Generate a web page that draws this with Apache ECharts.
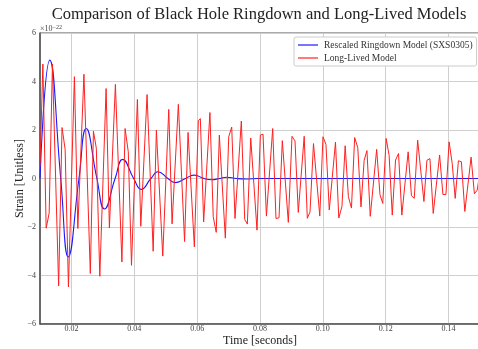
<!DOCTYPE html>
<html>
<head>
<meta charset="utf-8">
<script src="https://cdn.jsdelivr.net/npm/echarts@6/dist/echarts.min.js"></script>
<style>
html,body{margin:0;padding:0;background:#fff;}
#chart{width:478px;height:349px;}
</style>
</head>
<body>
<div id="chart"></div>
<script>
// ---- Data (strain in units of 1e-22) ----
const xTicks = [0.02, 0.04, 0.06, 0.08, 0.10, 0.12, 0.14];
const yTicks = [-6, -4, -2, 0, 2, 4, 6];

const blueT = [0.0100, 0.0131, 0.0166, 0.0190, 0.0224, 0.0247, 0.0281, 0.0305, 0.0339, 0.0363,
  0.0398, 0.0422, 0.0453, 0.0475, 0.0507, 0.0530, 0.0563, 0.0590, 0.0622, 0.0646,
  0.0672, 0.0694, 0.0725, 0.0758, 0.0790, 0.1500];
const blueV = [0.0, 4.88, 0.0, -3.23, 0.0, 2.06, 0.0, -1.26, 0.0, 0.79,
  0.0, -0.45, 0.0, 0.28, 0.0, -0.17, 0.0, 0.14, 0.0, -0.05,
  0.0, 0.05, 0.0, -0.02, 0.0, 0.0];

const redT = [0.0100, 0.01091, 0.01196, 0.01291, 0.01396, 0.01593, 0.01701, 0.01800, 0.01905, 0.02095,
  0.02204, 0.02398, 0.02601, 0.02700, 0.02792, 0.02903, 0.03103, 0.03208, 0.03399, 0.03606,
  0.03708, 0.03809, 0.03911, 0.04099, 0.04207, 0.04407, 0.04601, 0.04703, 0.04906, 0.05097,
  0.05202, 0.05402, 0.05600, 0.05711, 0.05911, 0.06038, 0.06102, 0.06207, 0.06407, 0.06512,
  0.06607, 0.06706, 0.06897, 0.07005, 0.07100, 0.07205, 0.07406, 0.07514, 0.07597, 0.07705,
  0.07905, 0.08010, 0.08096, 0.08204, 0.08404, 0.08509, 0.08605, 0.08710, 0.08901, 0.09018,
  0.09114, 0.09218, 0.09406, 0.09505, 0.09591, 0.09702, 0.09902, 0.10004, 0.10099, 0.10204,
  0.10402, 0.10507, 0.10608, 0.10710, 0.10812, 0.10910, 0.11012, 0.11111, 0.11213, 0.11314,
  0.11403, 0.11508, 0.11712, 0.11817, 0.11906, 0.12014, 0.12109, 0.12208, 0.12313, 0.12408,
  0.12513, 0.12714, 0.12819, 0.12908, 0.13016, 0.13216, 0.13311, 0.13407, 0.13512, 0.13715,
  0.13820, 0.13916, 0.14017, 0.14116, 0.14211, 0.14313, 0.14408, 0.14517, 0.14717, 0.14822,
  0.14911, 0.15000];
const redV = [0.5, 4.72, -2.05, -1.43, 4.72, -4.43, 2.10, 1.20, -4.47, 4.20,
  -2.06, 4.30, -3.92, 1.95, 1.25, -4.03, 3.71, -2.04, 3.88, -3.44,
  2.06, 1.10, -3.58, 3.26, -1.97, 3.46, -3.00, 1.99, -3.20, 2.85,
  -1.87, 3.06, -2.60, 1.90, -2.82, 2.38, 2.47, -1.79, 2.72, -1.58,
  -2.22, 1.79, -2.46, 1.72, 2.12, -1.65, 2.37, -1.69, -1.88, 1.67,
  -2.13, 1.79, 1.83, -1.55, 2.06, -1.65, -1.62, 1.56, -1.81, 1.74,
  1.55, -1.40, 1.74, -1.64, -1.38, 1.44, -1.55, 1.72, 1.40, -1.30,
  1.50, -1.63, -1.15, 1.35, -0.75, -1.22, 1.69, 1.27, -1.17, 0.75,
  1.15, -1.56, 1.20, -0.66, -1.03, 1.65, 0.95, -1.51, 0.76, 1.03,
  -1.51, 1.10, -0.71, -0.82, 1.58, -0.95, 0.75, 0.82, -1.44, 0.97,
  -0.66, -0.66, 1.51, 0.62, -0.82, 0.73, 0.69, -1.36, 0.88, -0.63,
  -0.48, 0.30];

const blueName = 'Rescaled Ringdown Model (SXS0305)';
const redName = 'Long-Lived Model';

const blueData = blueT.map((t, i) => [t, blueV[i]]);
const redData = redT.map((t, i) => [t, redV[i]]);

const SERIF = '"Liberation Serif", "DejaVu Serif", serif';
const chart = echarts.init(document.getElementById('chart'), null, {renderer: 'canvas'});
chart.setOption({
  animation: false,
  backgroundColor: '#ffffff',
  title: {
    text: 'Comparison of Black Hole Ringdown and Long-Lived Models',
    left: 259, top: 6, padding: 0, textAlign: 'center',
    textStyle: {fontFamily: SERIF, fontSize: 16.5, fontWeight: 'normal', color: '#222'}
  },
  legend: {
    data: [
      {name: blueName, icon: 'rect'},
      {name: redName, icon: 'rect'}
    ],
    orient: 'vertical',
    left: 294, top: 37,
    padding: [3, 4, 3, 4],
    itemWidth: 20, itemHeight: 1.2, itemGap: 3,
    backgroundColor: '#fff',
    borderColor: '#cccccc', borderWidth: 1, borderRadius: 2,
    textStyle: {fontFamily: SERIF, fontSize: 9.5, color: '#333', padding: [0, 0, 0, 1]}
  },
  grid: {
    left: 40, top: 33, width: 440, height: 291,
    outerBoundsMode: 'none', containLabel: false,
    show: true, borderColor: '#555', borderWidth: 1, backgroundColor: 'transparent'
  },
  xAxis: {
    type: 'value', min: 0.01, max: 0.15,
    name: 'Time [seconds]', nameLocation: 'middle', nameGap: 11, nameMoveOverlap: false,
    nameTextStyle: {fontFamily: SERIF, fontSize: 12, color: '#222'},
    axisLine: {show: true, onZero: false, lineStyle: {color: '#555', width: 1.5}},
    axisTick: {show: false, customValues: xTicks},
    axisLabel: {customValues: xTicks, fontFamily: SERIF, fontSize: 8, color: '#444', margin: 1,
      formatter: v => v.toFixed(2)},
    splitLine: {show: true, lineStyle: {color: '#cfcfcf', width: 1}}
  },
  yAxis: {
    type: 'value', min: -6, max: 6, interval: 2,
    name: 'Strain [Unitless]', nameLocation: 'middle', nameGap: 14, nameMoveOverlap: false,
    nameTextStyle: {fontFamily: SERIF, fontSize: 12, color: '#222'},
    axisLine: {show: true, onZero: false, lineStyle: {color: '#555', width: 1.5}},
    axisTick: {show: false},
    axisLabel: {fontFamily: SERIF, fontSize: 8, color: '#444', margin: 4,
      formatter: v => String(v).replace('-', '\u2212')},
    splitLine: {show: true, lineStyle: {color: '#cfcfcf', width: 1}}
  },
  graphic: [{
    type: 'text', left: 40, top: 24,
    style: {
      text: '{a|×10}{b|−22}',
      rich: {
        a: {fontFamily: SERIF, fontSize: 8, fill: '#444', verticalAlign: 'bottom'},
        b: {fontFamily: SERIF, fontSize: 6, fill: '#444', verticalAlign: 'top', padding: [0, 0, 3, 0]}
      }
    }
  }],
  series: [
    {name: blueName, type: 'line', data: blueData, showSymbol: false, symbol: 'none',
      smooth: 0.5, lineStyle: {color: '#1a1aff', width: 1.1}, itemStyle: {color: '#1a1aff'}, z: 3},
    {name: redName, type: 'line', data: redData, showSymbol: false, symbol: 'none',
      lineStyle: {color: '#ff2020', width: 1}, itemStyle: {color: '#ff2020'}, z: 4}
  ]
});
</script>
</body>
</html>
